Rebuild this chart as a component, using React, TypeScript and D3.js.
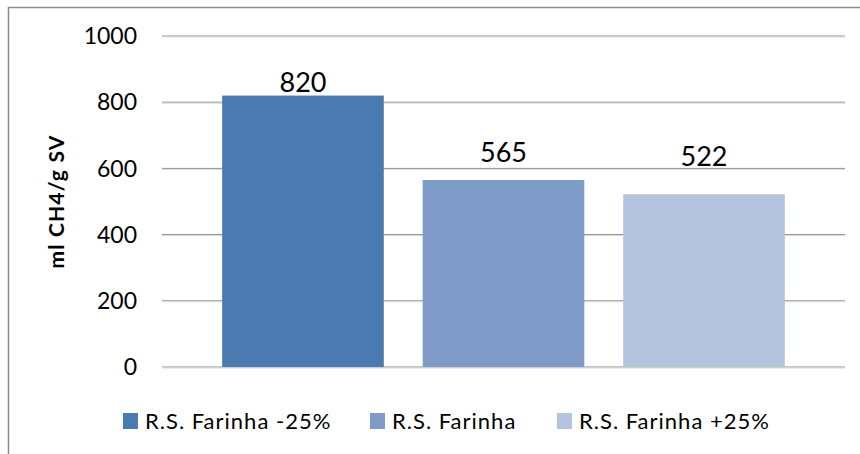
import React from "react";
import * as d3 from "d3";

const series = ["R.S. Farinha -25%", "R.S. Farinha", "R.S. Farinha +25%"];
const values = [820, 565, 522];
const colors = ["#4A7AB0", "#7F9CC8", "#B5C4DE"];
const labelLift = [4, 18, 28];
const yTicks = [0, 200, 400, 600, 800, 1000];
const yTitle = "ml CH4/g SV";

const W = 860;
const H = 454;
const FONT = "Lato, 'Open Sans', sans-serif";

export default function App() {
  const x = d3.scaleBand<string>().domain(series).range([162, 845]).paddingInner(0.194).paddingOuter(0.3);
  const y = d3.scaleLinear().domain([0, 1000]).range([367, 36]);

  const legendX = [123, 370, 557];

  return (
    <svg width={W} height={H} style={{ position: "absolute", left: 0, top: 0, background: "#fff" }} fontFamily={FONT}>
      <rect x={0} y={0} width={W} height={H} fill="#fff" />
      <rect x={8.5} y={7.5} width={W + 50} height={H + 50} fill="none" stroke="#8a8a8a" strokeWidth={1.5} />
      {yTicks.map((t) => (
        <g key={t}>
          <line x1={162} x2={845} y1={y(t)} y2={y(t)} stroke="#8c8c8c" strokeWidth={1} />
          <line x1={162} x2={845} y1={y(t) + 1} y2={y(t) + 1} stroke="#d9d9d9" strokeWidth={1} />
          <text x={137} y={y(t)} dy="0.36em" textAnchor="end" fontSize={23} fill="#000">
            {t}
          </text>
        </g>
      ))}
      {series.map((s, i) => (
        <g key={s}>
          <rect x={x(s)} y={y(values[i])} width={x.bandwidth()} height={y(0) - y(values[i])} fill={colors[i]} />
          <text
            x={(x(s) as number) + x.bandwidth() / 2}
            y={y(values[i]) - labelLift[i]}
            textAnchor="middle"
            fontSize={27}
            fill="#000"
          >
            {values[i]}
          </text>
        </g>
      ))}
      <text
        transform={`translate(64, ${(y(0) + y(1000)) / 2}) rotate(-90)`}
        textAnchor="middle"
        fontSize={21}
        fontWeight="bold"
        letterSpacing={1.2}
        fill="#000"
      >
        {yTitle}
      </text>
      {series.map((s, i) => (
        <g key={"lg" + s}>
          <rect x={legendX[i]} y={413} width={15} height={16} fill={colors[i]} />
          <text x={legendX[i] + 22} y={429} fontSize={22} letterSpacing={1} fill="#000">
            {s}
          </text>
        </g>
      ))}
    </svg>
  );
}
